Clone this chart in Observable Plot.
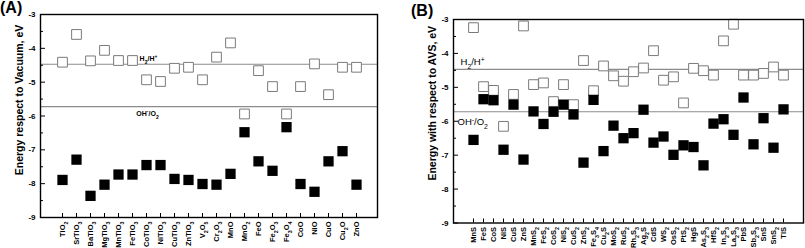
<!DOCTYPE html>
<html><head><meta charset="utf-8">
<script src="https://cdn.jsdelivr.net/npm/d3@7"></script>
<script src="https://cdn.jsdelivr.net/npm/@observablehq/plot@0.6"></script>
<style>
body{margin:0;background:#fff;}
#wrap{position:relative;width:805px;height:248px;overflow:hidden;font-family:"Liberation Sans",Arial,sans-serif;background:#fff;}
.panel{position:absolute;top:0;}
.tag{position:absolute;font-weight:bold;font-size:16px;color:#000;}
</style></head><body>
<div id="wrap">
  <div id="A" class="panel" style="left:0"></div>
  <div id="B" class="panel" style="left:400px"></div>
  <div class="tag" style="left:0;top:-1px">(A)</div>
  <div class="tag" style="left:411px;top:2px">(B)</div>
</div>
<script>
// ---- data ----
const oxides = ["TiO2","SrTiO3","BaTiO3","MgTiO3","MnTiO3","FeTiO3","CoTiO3","NiTiO3","CuTiO3","ZnTiO3","V2O5","Cr2O3","MnO","MnO2","FeO","Fe2O3","Fe3O4","CoO","NiO","CuO","Cu2O","ZnO"];
const oxideOpen = [-4.41,-3.59,-4.37,-4.06,-4.36,-4.36,-4.93,-4.98,-4.59,-4.56,-4.93,-4.26,-3.84,-5.94,-4.66,-5.13,-5.94,-5.13,-4.46,-5.37,-4.56,-4.56];
const oxideFilled = [-7.89,-7.29,-8.36,-8.03,-7.73,-7.73,-7.45,-7.45,-7.86,-7.89,-8.01,-8.03,-7.71,-6.48,-7.34,-7.62,-6.33,-8.01,-8.24,-7.34,-7.04,-8.03];

const sulfides = ["MnS","FeS","CoS","NiS","CuS","ZnS","MnS2","FeS2","CoS2","NiS2","CuS2","ZnS2","Fe3S4","Cu2S","MoS2","RuS2","Rh2S3","Ag2S","CdS","WS2","OsS2","PtS2","HgS","As2S3","HfS2","In2S3","La2S3","PbS","Sb2S3","SnS","SnS2","TlS"];
const sulfideOpen = [-3.24,-4.98,-5.09,-6.15,-5.21,-3.19,-4.92,-4.87,-5.42,-4.92,-5.51,-4.21,-5.10,-4.37,-4.66,-4.82,-4.54,-4.43,-3.92,-4.79,-4.69,-5.46,-4.44,-4.51,-4.64,-3.63,-3.14,-4.64,-4.64,-4.59,-4.40,-4.64];
const sulfideFilled = [-6.55,-5.35,-5.38,-6.84,-5.51,-7.13,-5.71,-6.08,-5.72,-5.51,-5.80,-7.22,-5.37,-6.88,-6.13,-6.50,-6.35,-5.66,-6.63,-6.45,-6.99,-6.71,-6.76,-7.30,-6.07,-5.94,-6.40,-5.30,-6.68,-5.91,-6.78,-5.65];

const yTicks = [-9,-8,-7,-6,-5,-4,-3];
const yMinorTicks = [-8.5,-7.5,-6.5,-5.5,-4.5,-3.5];
const refLevels = [-4.47, -5.72];           // H2/H+ and OH-/O2
const refLabels = ["H_2/H^+", "OH^-/O_2"];
const titles = ["Energy respect to Vacuum, eV", "Energy with respect to AVS, eV"];

// ---- helpers ----
const chem = d => d.replace(/(\d)/g, "_$1");
function rich(svg) {
  svg.querySelectorAll("text").forEach(t => {
    const leaves = t.querySelectorAll("tspan").length ? [...t.querySelectorAll("tspan")] : [t];
    leaves.forEach(n => {
      const s = n.textContent;
      if (!/[_^]/.test(s)) return;
      n.textContent = "";
      const re = /([_^])(.)|([^_^]+)/g;
      let m;
      while ((m = re.exec(s))) {
        const ts = document.createElementNS("http://www.w3.org/2000/svg", "tspan");
        if (m[1]) {
          ts.textContent = m[2];
          ts.setAttribute("baseline-shift", m[1] === "_" ? "sub" : "super");
          ts.setAttribute("font-size", "72%");
        } else ts.textContent = m[3];
        n.appendChild(ts);
      }
    });
  });
}

function panel(el, o) {
  const H = 248;
  const fw = o.width - o.mL - o.mR, fh = H - o.mT - o.mB;
  const svg = Plot.plot({
    width: o.width, height: H,
    marginLeft: o.mL, marginRight: o.mR, marginTop: o.mT, marginBottom: o.mB,
    style: {fontFamily: "'Liberation Sans', Arial, sans-serif", fontWeight: "bold", color: "#000", background: "#fff", overflow: "visible"},
    x: {type: "point", domain: o.cats, padding: 1.02},
    y: {domain: [-9, -3]},
    marks: [
      Plot.ruleY(refLevels, {stroke: "#8c8c8c", strokeWidth: 1.2}),
      Plot.axisY({ticks: yTicks, tickSize: 0, tickPadding: 5, label: null, fontSize: 8, tickFormat: d => String(d)}),
      Plot.tickY(yTicks, {y: d => d, insetRight: fw - 5, stroke: "#000", strokeWidth: 1}),
      Plot.tickY(yMinorTicks, {y: d => d, insetRight: fw - 3, stroke: "#000", strokeWidth: 1}),
      Plot.axisX({tickSize: 0, tickRotate: -90, tickPadding: o.xPad, label: null, fontSize: 7.5, tickFormat: chem}),
      Plot.tickX(o.cats, {x: d => d, insetTop: fh - 4, stroke: "#000", strokeWidth: 1}),
      Plot.dot(o.cats, {x: d => d, y: (d, i) => o.open[i], symbol: "square", r: 5.5, stroke: "#7a7a7a", strokeWidth: 1, fill: "white"}),
      Plot.dot(o.cats, {x: d => d, y: (d, i) => o.filled[i], symbol: "square", r: 5.8, fill: "#000", stroke: "none"}),
      Plot.frame({stroke: "#000", strokeWidth: 1.4}),
      Plot.text([o.title], {text: d => d, frameAnchor: "left", textAnchor: "middle", rotate: -90, dx: -21, dy: o.titleDy, fontSize: 10.5, fontWeight: "bold"}),
      Plot.text([refLabels[0]], {text: d => d, y: [refLevels[0]], frameAnchor: "left",
        dx: o.h2Dx, dy: o.h2Dy, textAnchor: o.lblAnchor, fontSize: o.lblSize, fontWeight: o.lblWeight}),
      Plot.text([refLabels[1]], {text: d => d, y: [refLevels[1]], frameAnchor: "left",
        dx: o.o2Dx, dy: o.o2Dy, textAnchor: o.lblAnchor, fontSize: o.lblSize, fontWeight: o.lblWeight})
    ]
  });
  rich(svg);
  el.appendChild(svg);
}

panel(document.getElementById("A"), {
  cats: oxides, open: oxideOpen, filled: oxideFilled, title: titles[0],
  width: 400, mL: 40, mR: 23, mT: 14, mB: 31, xPad: 4, titleDy: -16,
  h2Dx: 108, h2Dy: -5, o2Dx: 107, o2Dy: 7, lblAnchor: "middle", lblSize: 7, lblWeight: "bold"
});
panel(document.getElementById("B"), {
  cats: sulfides, open: sulfideOpen, filled: sulfideFilled, title: titles[1],
  width: 405, mL: 53, mR: 2, mT: 19, mB: 25.5, xPad: 4, titleDy: -18,
  h2Dx: 7, h2Dy: -7, o2Dx: 4, o2Dy: 10, lblAnchor: "start", lblSize: 9.5, lblWeight: "normal"
});
</script>
</body></html>
